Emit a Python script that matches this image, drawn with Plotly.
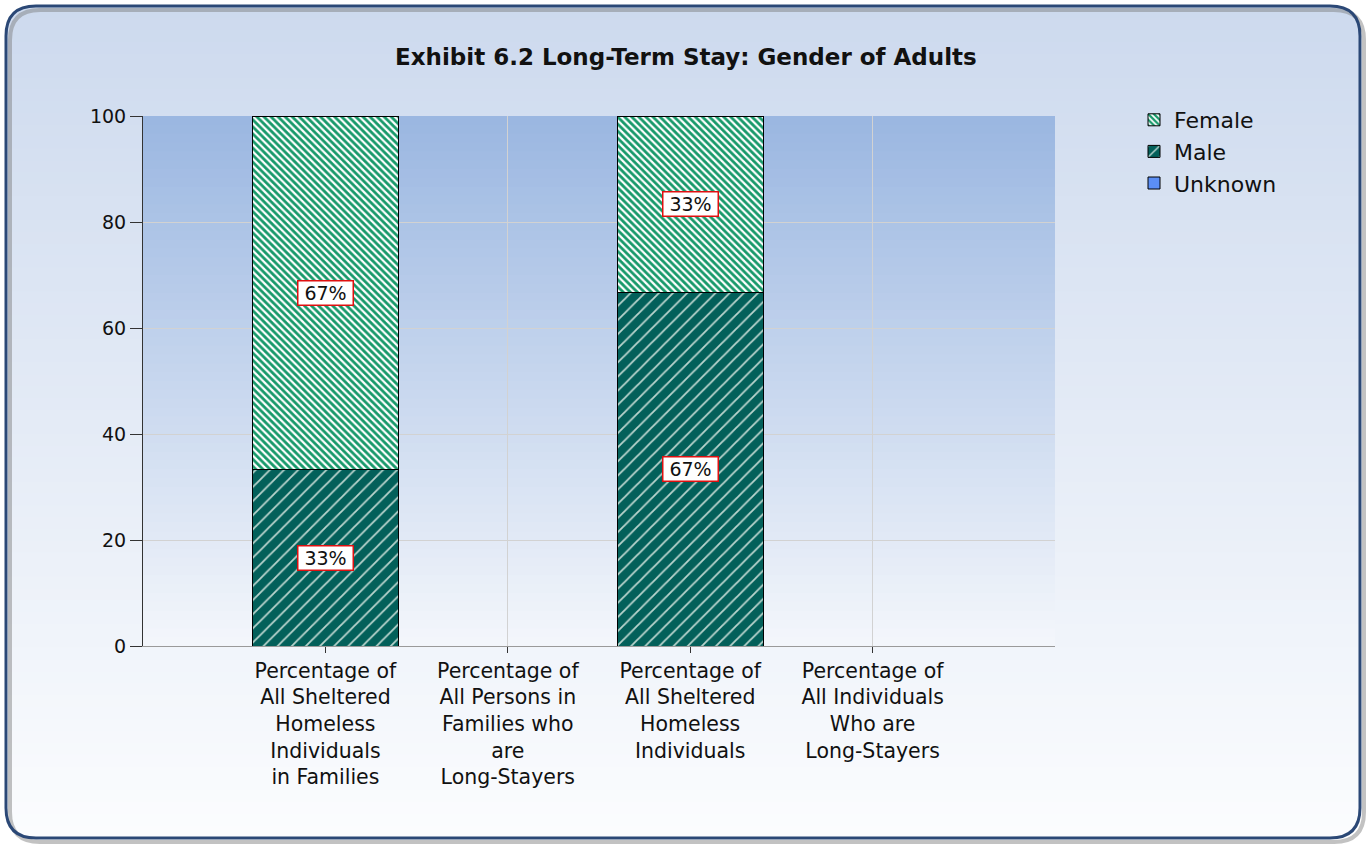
import plotly.graph_objects as go

# ---------------- data ----------------
categories = [
    "Percentage of<br>All Sheltered<br>Homeless<br>Individuals<br>in Families",
    "Percentage of<br>All Persons in<br>Families who<br>are<br>Long-Stayers",
    "Percentage of<br>All Sheltered<br>Homeless<br>Individuals",
    "Percentage of<br>All Individuals<br>Who are<br>Long-Stayers",
]
positions = [1, 2, 3, 4]
male = [33.3, None, 66.7, None]
female = [66.7, None, 33.3, None]
unknown = [None, None, None, None]
y_ticks = [0, 20, 40, 60, 80, 100]
title_text = "Exhibit 6.2 Long-Term Stay: Gender of Adults"

# ---------------- geometry helpers ----------------
W, H = 1369, 846
def px(x):
    return x / W
def py(y):
    return 1 - y / H

FONT = "DejaVu Sans"

def lerp(c1, c2, t):
    return "rgb(%d,%d,%d)" % tuple(round(a + (b - a) * t) for a, b in zip(c1, c2))

fig = go.Figure()

fig.add_trace(go.Bar(
    x=positions, y=male, name="Male", width=0.8, legendrank=2, legendgroup="m",
    marker=dict(color="#03605a", line=dict(color="black", width=1),
                pattern=dict(shape="/", fgcolor="#b9d4cd", bgcolor="#03605a",
                             size=10, solidity=0.18, fillmode="replace")),
    hoverinfo="skip",
))
fig.add_trace(go.Bar(
    x=positions, y=female, name="Female", width=0.8, legendrank=1, legendgroup="f",
    marker=dict(color="#1a9a6c", line=dict(color="black", width=1),
                pattern=dict(shape="\\", fgcolor="#17996a", bgcolor="white",
                             size=5, solidity=0.55, fillmode="replace")),
    hoverinfo="skip",
))
fig.add_trace(go.Bar(
    x=positions, y=unknown, name="Unknown", width=0.8, legendrank=3, legendgroup="u",
    marker=dict(color="#5b8ef5", line=dict(color="black", width=1)),
    hoverinfo="skip",
))

# ---------------- value labels ----------------
annotations = []
for xi, m, f in zip(positions, male, female):
    if m is not None:
        annotations.append(dict(x=xi, y=m / 2, text="%d%%" % round(m)))
    if f is not None:
        annotations.append(dict(x=xi, y=(m or 0) + f / 2, text="%d%%" % round(f)))
for a in annotations:
    a.update(xref="x", yref="y", showarrow=False, bgcolor="white",
             bordercolor="#e01010", borderwidth=1.5, borderpad=1, width=52, height=21,
             font=dict(family=FONT, size=19, color="#111111"))

annotations.append(dict(
    text="<b>" + title_text + "</b>", x=0.501, y=py(57), xref="paper", yref="paper",
    xanchor="center", yanchor="middle", showarrow=False,
    font=dict(family=FONT, size=23, color="#111111")))

# ---------------- background shapes ----------------
shapes = []
# outer paper gradient
L, R, T, B = 6, 1360, 6, 838
N = 70
top_c, bot_c = (205, 218, 238), (251, 252, 254)
for i in range(N):
    y0 = T + (B - T) * i / N
    y1 = T + (B - T) * (i + 1) / N + 0.8
    shapes.append(dict(type="rect", xref="paper", yref="paper", layer="below",
                       x0=px(L), x1=px(R), y0=py(y0), y1=py(y1),
                       fillcolor=lerp(top_c, bot_c, i / (N - 1)), line=dict(width=0)))

def rounded(L, R, T, B, r):
    l, rr, t, b = px(L), px(R), py(T), py(B)
    rx, ry = r / W, r / H
    return (f"M{l},{t - ry} Q{l},{t} {l + rx},{t} L{rr - rx},{t} Q{rr},{t} {rr},{t - ry} "
            f"L{rr},{b + ry} Q{rr},{b} {rr - rx},{b} L{l + rx},{b} Q{l},{b} {l},{b + ry} Z")

# white mask outside the rounded frame
mask = "M-0.01,-0.01 L1.01,-0.01 L1.01,1.01 L-0.01,1.01 Z " + rounded(L, R, T, B, 30)
shapes.append(dict(type="path", xref="paper", yref="paper", layer="below", path=mask,
                   fillcolor="white", line=dict(width=0)))
# shadow
shapes.append(dict(type="path", xref="paper", yref="paper", layer="below",
                   path=rounded(L + 4, R + 4, T + 4, B + 4, 30),
                   line=dict(color="rgba(120,120,120,0.45)", width=4)))
shapes.append(dict(type="path", xref="paper", yref="paper", layer="below",
                   path=rounded(L, R, T, B, 30), fillcolor="rgba(0,0,0,0)",
                   line=dict(color="#2b4876", width=3)))

# plot area gradient
NP = 60
ptop, pbot = (155, 183, 225), (243, 246, 251)
for i in range(NP):
    shapes.append(dict(type="rect", xref="x domain", yref="y domain", layer="below",
                       x0=0, x1=1, y0=1 - i / NP, y1=1 - (i + 1) / NP - 0.002,
                       fillcolor=lerp(ptop, pbot, i / (NP - 1)), line=dict(width=0)))

fig.update_layout(
    width=W, height=H,
    margin=dict(l=0, r=0, t=0, b=0, autoexpand=False),
    paper_bgcolor="white", plot_bgcolor="rgba(0,0,0,0)",
    barmode="stack", bargap=0.2,
    showlegend=True,
    legend=dict(x=px(1134), y=py(99), xanchor="left", yanchor="top",
                bgcolor="rgba(0,0,0,0)", font=dict(family=FONT, size=22, color="#111111"),
                traceorder="normal", tracegroupgap=3),
    xaxis=dict(domain=[px(143), px(1055)], range=[0, 5], tickmode="array",
               tickvals=positions, ticktext=categories, showgrid=True, automargin=False,
               gridcolor="#d2d2d2", gridwidth=1, ticks="outside", ticklen=6,
               tickcolor="#333333", showline=True, linecolor="#9a9a9a", linewidth=1,
               zeroline=False, tickfont=dict(family=FONT, size=20.5, color="#111111"),
               fixedrange=True),
    yaxis=dict(domain=[py(646), py(116)], range=[0, 100], tickmode="array",
               tickvals=y_ticks, showgrid=True, gridcolor="#d2d2d2", gridwidth=1,
               ticks="outside", ticklen=12, tickcolor="#333333", showline=True,
               automargin=False,
               linecolor="#333333", linewidth=1, zeroline=False,
               tickfont=dict(family=FONT, size=19, color="#111111"), fixedrange=True),
    shapes=shapes,
    annotations=annotations,
    font=dict(family=FONT),
)

fig.write_html(
    "out.html",
    config={"responsive": False, "displayModeBar": False},
    post_script="document.body.style.margin='0';document.body.style.overflow='hidden';",
)
